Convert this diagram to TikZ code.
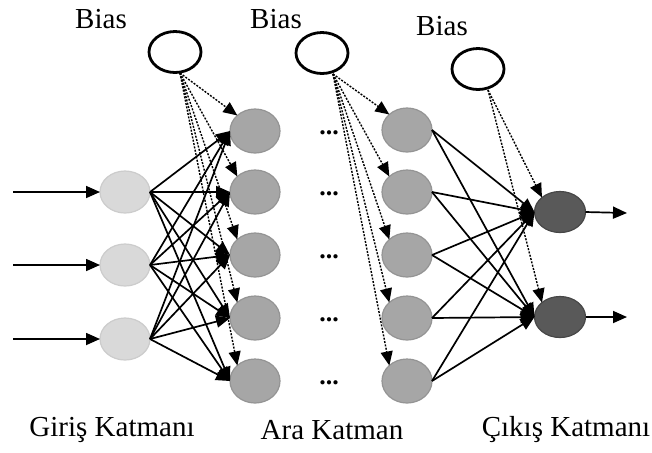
\documentclass[tikz,border=0pt]{standalone}
\usepackage{fontspec}
\setmainfont{Liberation Serif}
\usetikzlibrary{shapes.geometric,arrows.meta}
\begin{document}
\begin{tikzpicture}[x=0.5pt,y=-0.5pt,
  every node/.style={inner sep=0pt,outer sep=0pt},
  lbl/.style={font=\fontsize{14.5}{16}\selectfont},
  dotsl/.style={font=\bfseries\fontsize{13}{15}\selectfont,anchor=base},
  biasn/.style={ellipse,draw=black,line width=1.4pt,fill=white,minimum width=26pt,minimum height=20.5pt},
  inn/.style={ellipse,draw=black!20,line width=0.6pt,fill=black!15,minimum width=25pt,minimum height=21pt},
  hidn/.style={ellipse,draw=black!42,line width=0.6pt,fill=black!35,minimum width=25pt,minimum height=22pt},
  outn/.style={ellipse,draw=black!72,line width=0.6pt,fill=black!65,minimum width=25.5pt,minimum height=20.5pt},
  conn/.style={line width=0.85pt,-{Triangle[length=7pt,width=6pt]}},
  bconn/.style={line width=0.7pt,dash pattern=on 1pt off 0.7pt,-{Triangle[length=7pt,width=6pt]}}
]
\useasboundingbox (0,0) rectangle (652,452);
% labels
\node[lbl] (tb1) at (101,19) {Bias};
\node[lbl] (tb2) at (276,19) {Bias};
\node[lbl] (tb3) at (442,26) {Bias};
\node[lbl] (tin) at (112,430) {Giriş Katmanı};
\node[lbl] (thid) at (332,430) {Ara Katman};
\node[lbl] (tout) at (566,430) {Çıkış Katmanı};
% bias nodes
\node[biasn] (b1) at (175,52) {};
\node[biasn] (b2) at (322,53) {};
\node[biasn] (b3) at (478,69) {};
% input nodes
\node[inn] (i1) at (125,192) {};
\node[inn] (i2) at (125,265) {};
\node[inn] (i3) at (125,339) {};
% hidden layer 1
\node[hidn] (h1) at (255,131) {};
\node[hidn] (h2) at (255,192) {};
\node[hidn] (h3) at (255,255) {};
\node[hidn] (h4) at (255,318) {};
\node[hidn] (h5) at (255,381) {};
% hidden layer 2
\node[hidn] (g1) at (407,130) {};
\node[hidn] (g2) at (407,192) {};
\node[hidn] (g3) at (407,255) {};
\node[hidn] (g4) at (407,318) {};
\node[hidn] (g5) at (407,381) {};
% output
\node[outn] (o1) at (560,212) {};
\node[outn] (o2) at (560,317) {};
% dots
\node[dotsl] (d1) at (329,134) {...};
\node[dotsl] (d2) at (329,195) {...};
\node[dotsl] (d3) at (329,258) {...};
\node[dotsl] (d4) at (329,321) {...};
\node[dotsl] (d5) at (329,384) {...};
% free ends
\coordinate (a1) at (13,192);
\coordinate (a2) at (13,265);
\coordinate (a3) at (13,339);
\coordinate (e1) at (627,213);
\coordinate (e2) at (627,317);
\coordinate (bs1) at (180,73);
\coordinate (bs2) at (333,74);
\coordinate (bs3) at (488,90);
% input arrows
\foreach \k in {1,2,3} \draw[conn] (a\k) -- (i\k.west);
% input -> hidden1
\foreach \k in {1,2,3} \foreach \j in {1,...,5} \draw[conn] (i\k.east) -- (h\j.west);
% bias1 -> hidden1
\foreach \j in {1,...,5} \draw[bconn] (bs1) -- (h\j.north west);
% bias2 -> hidden2
\foreach \j in {1,...,5} \draw[bconn] (bs2) -- (g\j.north west);
% hidden2 -> output
\foreach \j in {1,...,5} \foreach \k in {1,2} \draw[conn] (g\j.east) -- (o\k.west);
% bias3 -> output
\foreach \k in {1,2} \draw[bconn] (bs3) -- (o\k.north west);
% output arrows
\foreach \k in {1,2} \draw[conn] (o\k.east) -- (e\k);
\end{tikzpicture}
\end{document}
